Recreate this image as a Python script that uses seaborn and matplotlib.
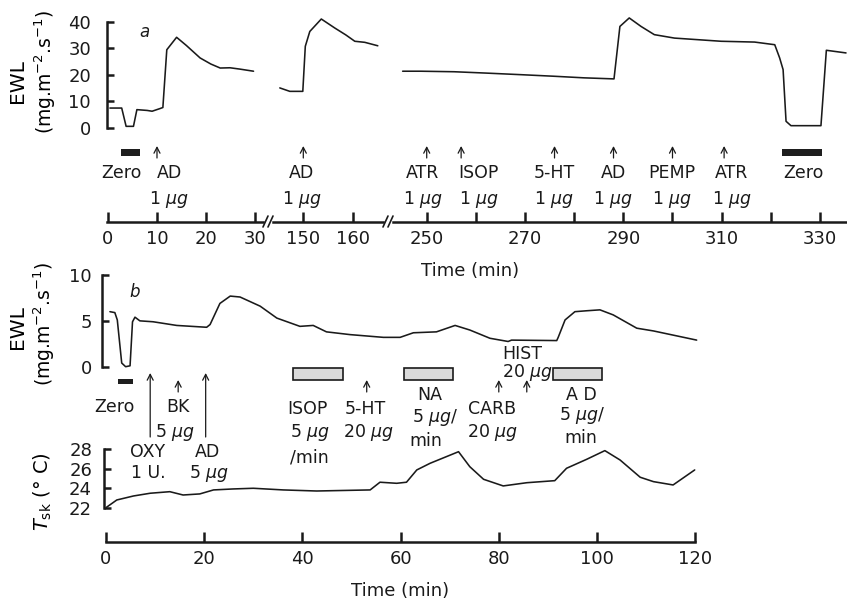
import numpy as np
import pandas as pd
import matplotlib
matplotlib.use('Agg')
import matplotlib.pyplot as plt
import matplotlib.transforms as mtransforms
from matplotlib.patches import Rectangle
from matplotlib.lines import Line2D
import seaborn as sns

# ---------------- data ----------------
# Panel a: EWL (mg m-2 s-1) against time (min), three recorded segments
a_t1 = [0.4, 2.8, 3.7, 5.2, 5.9, 8.0, 9.0, 10.6, 11.2, 12.0, 14.0, 16.0, 18.8, 21.0, 22.9, 24.9, 26.9, 29.7]
a_v1 = [7.4, 7.4, 0.5, 0.5, 6.8, 6.5, 6.2, 7.2, 7.6, 29.4, 34.1, 31.0, 26.3, 24.0, 22.5, 22.6, 22.1, 21.3]
a_t2 = [145.3, 147.3, 149.9, 150.4, 151.3, 153.6, 156.3, 158.5, 160.3, 162.3, 164.9]
a_v2 = [15.0, 13.7, 13.7, 30.7, 36.3, 41.0, 37.6, 35.0, 32.6, 32.2, 30.9]
a_t3 = [245.1, 248.8, 255.6, 262.0, 269.1, 275.9, 282.0, 288.1, 289.3, 291.2, 293.6, 296.3, 300.4,
        309.9, 316.7, 320.8, 321.8, 322.5, 323.1, 324.1, 330.2, 331.3, 332.9, 335.3]
a_v3 = [21.3, 21.3, 21.1, 20.6, 20.0, 19.4, 18.8, 18.4, 38.2, 41.4, 38.2, 35.1, 33.8,
        32.6, 32.3, 31.3, 26.3, 21.9, 2.4, 0.75, 0.75, 29.2, 28.8, 28.2]

a_event_t = [10, 150, 250, 257, 276, 288, 300, 310.5]
a_event_name = ['AD', 'AD', 'ATR', 'ISOP', '5-HT', 'AD', 'PEMP', 'ATR']
a_event_dose = [r'1 $\mu\mathit{g}$'] * 8
a_zero_start = [2.7, 322.2]
a_zero_end = [6.5, 330.5]

# Panel b: EWL and skin temperature against time (min)
b_t = [0.8, 1.8, 2.3, 3.2, 4.0, 4.9, 5.4, 5.9, 6.9, 9.6, 14.4, 20.5, 21.2, 23.2, 25.3, 27.3, 31.4,
       34.8, 39.5, 42.2, 44.9, 49.7, 56.5, 59.9, 62.6, 67.3, 71.1, 74.1, 78.2, 81.9, 82.6, 91.8,
       92.1, 93.5, 95.5, 97.9, 100.6, 103.3, 108.1, 111.5, 120.3]
b_ewl = [6.0, 5.9, 5.1, 0.4, 0.0, 0.1, 4.9, 5.4, 5.0, 4.9, 4.5, 4.3, 4.6, 6.9, 7.7, 7.6, 6.6,
         5.3, 4.4, 4.5, 3.8, 3.5, 3.2, 3.2, 3.7, 3.8, 4.5, 4.0, 3.1, 2.75, 2.9, 2.85,
         3.2, 5.1, 6.0, 6.1, 6.2, 5.65, 4.2, 3.9, 2.9]
tsk_t = [0.1, 2.2, 5.6, 9.0, 13.0, 15.7, 19.1, 21.9, 25.9, 30.0, 36.1, 42.9, 53.8, 55.8, 59.2, 61.2,
         63.3, 66.0, 71.8, 74.1, 76.9, 80.9, 85.7, 91.4, 93.8, 97.9, 101.6, 104.7, 108.8, 111.5,
         115.5, 119.9]
tsk_v = [22.07, 22.82, 23.23, 23.51, 23.67, 23.33, 23.44, 23.85, 23.95, 24.02, 23.85, 23.74, 23.85,
         24.64, 24.53, 24.64, 25.90, 26.58, 27.77, 26.23, 24.94, 24.26, 24.59, 24.80, 26.07, 26.99,
         27.88, 26.92, 25.15, 24.70, 24.36, 25.90]

b_zero_start, b_zero_end = 2.4, 5.5
b_long_arrow_t = [9.0, 20.3]          # OXY, AD
b_short_arrow_t = [14.7, 53.1, 80.0, 85.7]   # BK, 5-HT, CARB, HIST
b_inf_start = [38.1, 60.6, 91.1]      # ISOP, NA, AD infusions
b_inf_end = [48.2, 70.6, 101.1]

# ---------------- style ----------------
sns.set_theme(style='white')
plt.rcParams['font.family'] = ['DejaVu Sans']
plt.rcParams['mathtext.fontset'] = 'dejavusans'
for key in ('text.color', 'xtick.color', 'ytick.color', 'axes.labelcolor', 'axes.edgecolor'):
    plt.rcParams[key] = 'black'

W, H = 847, 603
fig = plt.figure(figsize=(W / 100, H / 100), dpi=100, facecolor='white')
PX = mtransforms.Affine2D().scale(1 / W, -1 / H).translate(0, 1) + fig.transFigure
LW_AX = 1.8
LW_TR = 1.15
FS = 12.5


def add_ax(x0, y0, x1, y1):
    ax = fig.add_axes([x0 / W, 1 - y1 / H, (x1 - x0) / W, (y1 - y0) / H])
    ax.set_facecolor('none')
    ax.grid(False)
    for s in ax.spines.values():
        s.set_visible(False)
        s.set_linewidth(LW_AX)
        s.set_color('k')
    ax.set_xticks([])
    ax.set_yticks([])
    return ax


def bl(ax):
    return mtransforms.blended_transform_factory(ax.transData, PX)


def txt(ax, t, y, s, **kw):
    kw.setdefault('fontsize', FS)
    ax.text(t, y, s, transform=bl(ax), ha='center', va='baseline', color='k', clip_on=False, **kw)


def arrow(ax, t, y_head, y_tail, lw=0.9):
    ax.annotate('', xy=(t, y_head), xycoords=bl(ax), xytext=(t, y_tail), textcoords=bl(ax),
                arrowprops=dict(arrowstyle='->,head_length=0.35,head_width=0.18', lw=lw, color='k',
                                shrinkA=0, shrinkB=0), annotation_clip=False)


def line(ax, x, y):
    sns.lineplot(x=np.asarray(x), y=np.asarray(y), ax=ax, color='k', linewidth=LW_TR,
                 estimator=None, sort=False, legend=False)


# ---------------- panel a ----------------
seg_px = [(107, 263), (273, 383), (393, 847)]
seg_lim = [(-0.2, 31.63), (143.94, 165.94), (243.14, 335.5)]
seg_ticks = [[0, 10, 20, 30], [150, 160], [250, 260, 270, 280, 290, 300, 310, 320, 330]]
seg_ticklabels = [['0', '10', '20', '30'], ['150', '160'],
                  ['250', '', '270', '', '290', '', '310', '', '330']]
seg_t = [a_t1, a_t2, a_t3]
seg_v = [a_v1, a_v2, a_v3]
axa = []
for (x0, x1), lim, tk, tl, tt, vv in zip(seg_px, seg_lim, seg_ticks, seg_ticklabels, seg_t, seg_v):
    ax = add_ax(x0, 10, x1, 222)
    line(ax, tt, vv)
    ax.set_xlim(*lim)
    ax.set_ylim(-35.6, 44.4)
    ax.spines['bottom'].set_visible(True)
    ax.set_xticks(tk)
    ax.set_xticklabels(tl)
    ax.tick_params(axis='x', direction='in', length=7, width=LW_AX, labelsize=13, pad=6, bottom=True,
                   colors='k')
    ax.set_xlabel('')
    ax.set_ylabel('')
    axa.append(ax)

ax1 = axa[0]
ax1.spines['left'].set_visible(True)
ax1.spines['left'].set_bounds(0, 40)
ax1.set_yticks([0, 10, 20, 30, 40])
ax1.tick_params(axis='y', direction='in', length=5, width=LW_AX, labelsize=13, pad=11.5, left=True,
                colors='k')


def seg_of(t):
    for ax, lim in zip(axa, seg_lim):
        if lim[0] <= t <= lim[1]:
            return ax
    return axa[-1]


a_label_dx = [2.5, -0.3, -0.8, 3.6, -0.1, -0.1, -0.2, 1.6]
for t, nm, ds, dx in zip(a_event_t, a_event_name, a_event_dose, a_label_dx):
    ax = seg_of(t)
    arrow(ax, t, 146, 158)
    txt(ax, t + dx, 178.5, nm)
    txt(ax, t + dx, 203.5, ds)

for t0, t1 in zip(a_zero_start, a_zero_end):
    ax = seg_of(t0)
    ax.add_patch(Rectangle((t0, 149), t1 - t0, 7, transform=bl(ax), facecolor='#1e1e1e',
                           edgecolor='none', clip_on=False))
txt(axa[0], 2.65, 178.5, 'Zero')
txt(axa[2], 326.6, 178.5, 'Zero')
txt(axa[0], 7.35, 36.7, 'a', fontstyle='italic', fontsize=12)
txt(axa[2], 258.8, 275.7, 'Time (min)', fontsize=13)

# axis break marks
for xb in (263, 383):
    for dx in (0, 5):
        fig.add_artist(Line2D([xb + dx, xb + dx + 5], [227, 216], transform=PX, color='k', lw=1.2))

fig.text(17.5, 81, 'EWL', transform=PX, rotation=90, ha='center', va='center', fontsize=14.5)
fig.text(45, 72, r'(mg.m$^{-2}$.s$^{-1}$)', transform=PX, rotation=90, ha='center', va='center',
         fontsize=13.5)

# ---------------- panel b ----------------
axb = add_ax(102, 265, 700, 390)
line(axb, b_t, b_ewl)
axb.set_xlim(-0.815, 120.98)
axb.set_ylim(-2.54, 11.09)
axb.spines['left'].set_visible(True)
axb.spines['left'].set_bounds(0, 10)
axb.set_yticks([0, 5, 10])
axb.tick_params(axis='y', direction='in', length=5, width=LW_AX, labelsize=13, pad=7.2, left=True,
                colors='k')
axb.set_xlabel('')
axb.set_ylabel('')

axt = add_ax(104, 440, 700, 542)
line(axt, tsk_t, tsk_v)
axt.set_xlim(-0.407, 120.98)
axt.set_ylim(18.51, 28.97)
axt.spines['left'].set_visible(True)
axt.spines['left'].set_bounds(22, 28)
axt.spines['bottom'].set_visible(True)
axt.spines['bottom'].set_bounds(0, 120)
axt.set_yticks([22, 24, 26, 28])
axt.set_xticks([0, 20, 40, 60, 80, 100, 120])
axt.tick_params(axis='y', direction='in', length=5, width=LW_AX, labelsize=13, pad=8.6, left=True,
                colors='k')
axt.tick_params(axis='x', direction='in', length=7, width=LW_AX, labelsize=13, pad=6, bottom=True,
                colors='k')
axt.set_xlabel('')
axt.set_ylabel('')

axb.add_patch(Rectangle((b_zero_start, 379), b_zero_end - b_zero_start, 5, transform=bl(axb),
                        facecolor='#1e1e1e', edgecolor='none', clip_on=False))
for t in b_long_arrow_t:
    arrow(axb, t, 373, 437)
for t in b_short_arrow_t:
    arrow(axb, t, 380, 392)
for t0, t1 in zip(b_inf_start, b_inf_end):
    axb.add_patch(Rectangle((t0, 367.5), t1 - t0, 12.5, transform=bl(axb), facecolor='#dadada',
                            edgecolor='k', lw=1.2, clip_on=False))

txt(axb, 5.9, 296.7, 'b', fontstyle='italic', fontsize=12)
txt(axb, 1.8, 411.7, 'Zero')
txt(axb, 14.7, 411.7, 'BK')
txt(axb, 14.1, 437, r'5 $\mu\mathit{g}$')
txt(axb, 8.4, 456.7, 'OXY')
txt(axb, 8.6, 478.3, '1 U.')
txt(axb, 20.6, 456.7, 'AD')
txt(axb, 21.0, 478.3, r'5 $\mu\mathit{g}$')
txt(axb, 41.0, 414, 'ISOP')
txt(axb, 41.5, 437, r'5 $\mu\mathit{g}$')
txt(axb, 41.5, 463, '/min')
txt(axb, 52.9, 414, '5-HT')
txt(axb, 53.4, 437, r'20 $\mu\mathit{g}$')
txt(axb, 65.9, 400, 'NA')
txt(axb, 67.0, 421.7, r'5 $\mu\mathit{g}$/')
txt(axb, 65.2, 445.7, 'min')
txt(axb, 78.6, 414, 'CARB')
txt(axb, 78.8, 436.7, r'20 $\mu\mathit{g}$')
txt(axb, 84.8, 359.3, 'HIST')
txt(axb, 85.8, 377.3, r'20 $\mu\mathit{g}$')
txt(axb, 96.9, 400, 'A D')
txt(axb, 97.0, 420, r'5 $\mu\mathit{g}$/')
txt(axb, 96.7, 443, 'min')
txt(axt, 59.9, 596, 'Time (min)', fontsize=13)

fig.text(17.5, 327, 'EWL', transform=PX, rotation=90, ha='center', va='center', fontsize=14.5)
fig.text(44, 324, r'(mg.m$^{-2}$.s$^{-1}$)', transform=PX, rotation=90, ha='center', va='center',
         fontsize=13.5)
fig.text(43, 492, r'$T_{\rm sk}$ (° C)', transform=PX, rotation=90, ha='center', va='center',
         fontsize=14)

fig.savefig('out.png', dpi=100, facecolor='white')
